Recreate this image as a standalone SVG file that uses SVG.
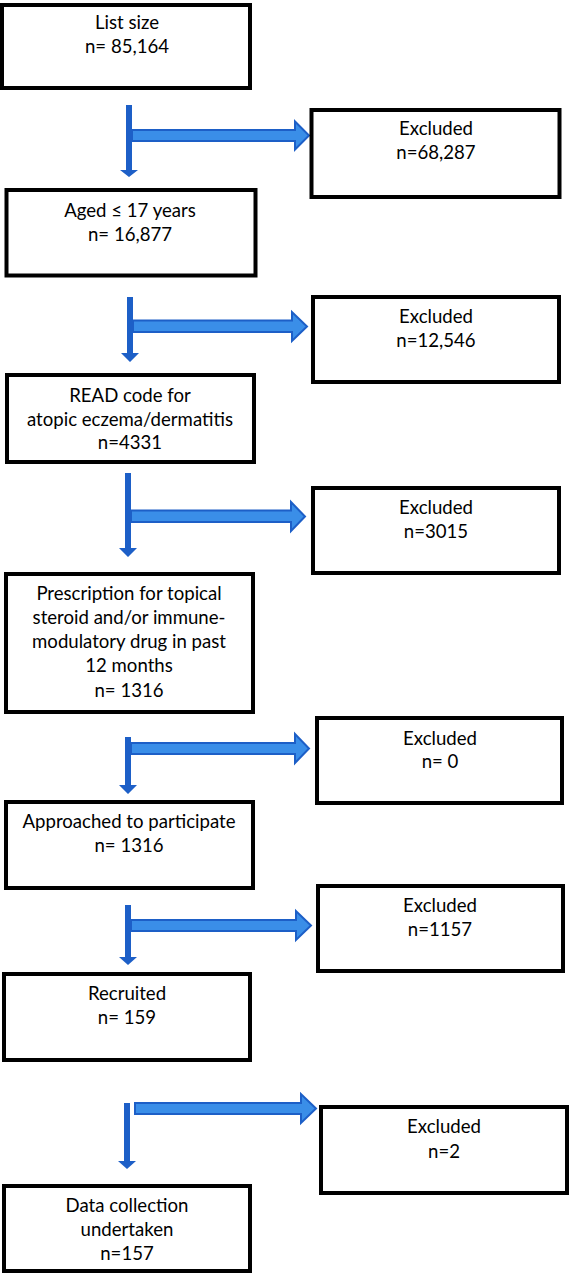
<svg xmlns="http://www.w3.org/2000/svg" width="570" height="1274" viewBox="0 0 570 1274">
<style>
.box{fill:#fff;stroke:#000;stroke-width:4}
.t{font-family:Lato,"Liberation Sans",sans-serif;font-size:18.6px;fill:#000;text-anchor:middle}
.v{fill:#1d5fc7}
.h{fill:#3a8ee8;stroke:#1d5fc7;stroke-width:2;stroke-linejoin:miter}
</style>
<rect width="570" height="1274" fill="#fff"/>
<g id="connectors">
<polygon class="v" points="126,105 132,105 132,170 138,170 129,177 120,170 126,170"/>
<polygon class="h" points="132,130 295,130 295,121.5 309,135.5 295,149.5 295,141 132,141"/>
<polygon class="v" points="127,297 133,297 133,353 139,353 130,362 121,353 127,353"/>
<polygon class="h" points="133,320.5 292,320.5 292,312 307,326.5 292,341 292,332 133,332"/>
<polygon class="v" points="125,473 131,473 131,548 137,548 128,557 119,548 125,548"/>
<polygon class="h" points="131,510.5 291,510.5 291,502 305,516.5 291,531 291,522 131,522"/>
<polygon class="v" points="125,737 131,737 131,785 137,785 128,794 119,785 125,785"/>
<polygon class="h" points="131,743 295,743 295,734 309,748.5 295,763 295,754 131,754"/>
<polygon class="v" points="125,905 131,905 131,957 137,957 128,965 119,957 125,957"/>
<polygon class="h" points="131,920 296,920 296,911 311,925.5 296,940 296,931 131,931"/>
<polygon class="v" points="124,1103 130,1103 130,1161 136,1161 127,1169 118,1161 124,1161"/>
<polygon class="h" points="135,1103 301,1103 301,1094 316,1108.5 301,1123 301,1114 135,1114"/>
</g>
<g id="n-list">
<rect class="box" x="2" y="5" width="248" height="83"/>
<text class="t" x="127" y="29">List size</text>
<text class="t" x="127" y="53">n= 85,164</text>
</g>
<g id="n-ex1">
<rect class="box" x="311.5" y="110" width="248" height="87"/>
<text class="t" x="436" y="135">Excluded</text>
<text class="t" x="436" y="159">n=68,287</text>
</g>
<g id="n-aged">
<rect class="box" x="6.5" y="190" width="249" height="85.5"/>
<text class="t" x="130" y="217">Aged ≤ 17 years</text>
<text class="t" x="130" y="241">n= 16,877</text>
</g>
<g id="n-ex2">
<rect class="box" x="313" y="297" width="246" height="85"/>
<text class="t" x="436" y="323">Excluded</text>
<text class="t" x="436" y="347">n=12,546</text>
</g>
<g id="n-read">
<rect class="box" x="7" y="375" width="247" height="87"/>
<text class="t" x="130" y="402">READ code for</text>
<text class="t" x="130" y="426">atopic eczema/dermatitis</text>
<text class="t" x="130" y="449">n=4331</text>
</g>
<g id="n-ex3">
<rect class="box" x="313" y="488" width="246" height="85"/>
<text class="t" x="436" y="514">Excluded</text>
<text class="t" x="436" y="538">n=3015</text>
</g>
<g id="n-presc">
<rect class="box" x="6" y="574" width="247" height="138"/>
<text class="t" x="129" y="600">Prescription for topical</text>
<text class="t" x="129" y="624">steroid and/or immune-</text>
<text class="t" x="129" y="648">modulatory drug in past</text>
<text class="t" x="129" y="672">12 months</text>
<text class="t" x="129" y="697">n= 1316</text>
</g>
<g id="n-ex4">
<rect class="box" x="317" y="718" width="245" height="85"/>
<text class="t" x="440" y="745">Excluded</text>
<text class="t" x="440" y="768">n= 0</text>
</g>
<g id="n-appr">
<rect class="box" x="6" y="802" width="247" height="86"/>
<text class="t" x="129" y="828">Approached to participate</text>
<text class="t" x="129" y="852">n= 1316</text>
</g>
<g id="n-ex5">
<rect class="box" x="318" y="886" width="245" height="85"/>
<text class="t" x="440" y="912">Excluded</text>
<text class="t" x="440" y="936">n=1157</text>
</g>
<g id="n-recr">
<rect class="box" x="4" y="974" width="246" height="86"/>
<text class="t" x="127" y="1000">Recruited</text>
<text class="t" x="127" y="1024">n= 159</text>
</g>
<g id="n-ex6">
<rect class="box" x="321" y="1107" width="246" height="86"/>
<text class="t" x="444" y="1133">Excluded</text>
<text class="t" x="444" y="1158">n=2</text>
</g>
<g id="n-data">
<rect class="box" x="4" y="1186" width="246" height="85"/>
<text class="t" x="127" y="1212">Data collection</text>
<text class="t" x="127" y="1236">undertaken</text>
<text class="t" x="127" y="1260">n=157</text>
</g>
</svg>
